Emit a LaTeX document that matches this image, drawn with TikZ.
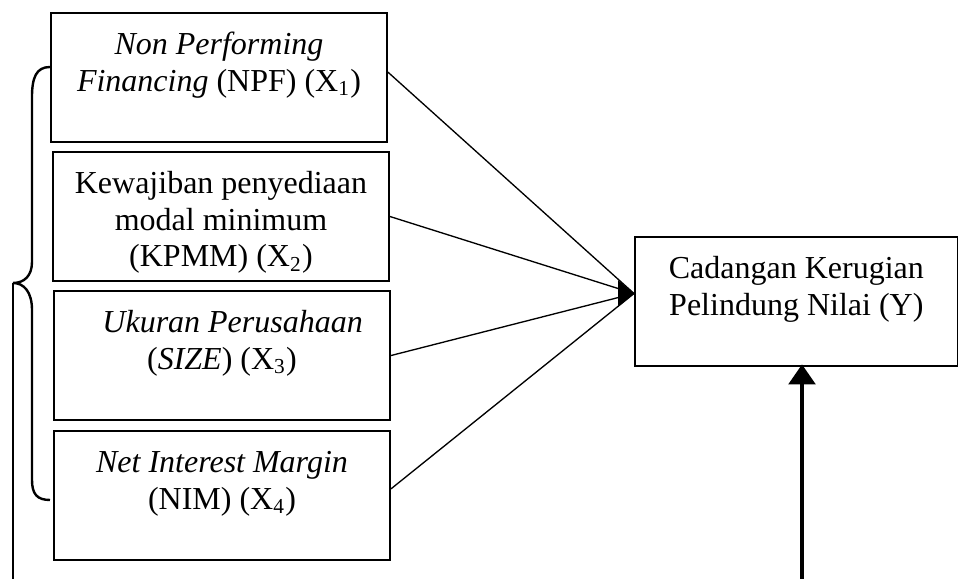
\documentclass[tikz,border=0pt]{standalone}
\usepackage{fontspec}
\setmainfont{Liberation Serif}
\usetikzlibrary{arrows.meta}

\newcommand{\boxtext}[2][118pt]{\parbox[t][40.4pt][t]{#1}{\centering\rule{0pt}{11.5pt}#2}}

\begin{document}
\begin{tikzpicture}[
  x=0.375pt,y=-0.375pt,
  var/.style={draw,line width=0.75pt,inner sep=4pt,anchor=north west,
              font=\fontsize{12}{13.8}\selectfont},
  link/.style={line width=0.5pt},
  flow/.style={-{Triangle[length=6pt,width=10pt]},line width=0.5pt},
  feed/.style={-{Triangle[length=7.5pt,width=10pt]},line width=1.3pt},
  brace/.style={line width=0.9pt}
]
\useasboundingbox (0,0) rectangle (958,579);

\node[var] (b1) at (50,12)
  {\boxtext{\textit{Non Performing}\\\textit{Financing} (NPF) (X\textsubscript{1})}};
\node[var] (b2) at (52,151)
  {\boxtext{Kewajiban penyediaan\\modal minimum\\(KPMM) (X\textsubscript{2})}};
\node[var] (b3) at (53,290)
  {\boxtext{\hspace*{8pt}\textit{Ukuran Perusahaan}\\(\textit{SIZE}) (X\textsubscript{3})}};
\node[var] (b4) at (53,430)
  {\boxtext{\textit{Net Interest Margin}\\(NIM) (X\textsubscript{4})}};
\node[var] (y) at (634,236)
  {\boxtext[113pt]{Cadangan Kerugian\\Pelindung Nilai (Y)}};

% four paths meet at one tip
\coordinate (hub) at ([yshift=3pt]y.west);
\draw[link] ([yshift=2pt]b1.east) -- (hub);
\draw[link] (b2.east) -- (hub);
\draw[link] (b3.east) -- (hub);
\draw[link] ([yshift=2.5pt]b4.east) -- (hub);
\draw[flow] ([xshift=-6pt]hub) -- (hub);

% brace round the four boxes
\coordinate (tip) at (13,283);
\coordinate (floor) at (13,579);
\draw[brace] (50,67) .. controls (36,67) and (32,78) .. (32,97) -- (32,262)
  .. controls (32,276) and (24,283) .. (tip)
  .. controls (24,283) and (32,292) .. (32,310) -- (32,480)
  .. controls (32,494) and (37,500) .. (50,500);
\draw[brace] (tip) -- (floor);

\coordinate (ybase) at (802,579);
\draw[feed,shorten >=-1pt] (ybase) -- (ybase |- y.south);
\end{tikzpicture}
\end{document}
